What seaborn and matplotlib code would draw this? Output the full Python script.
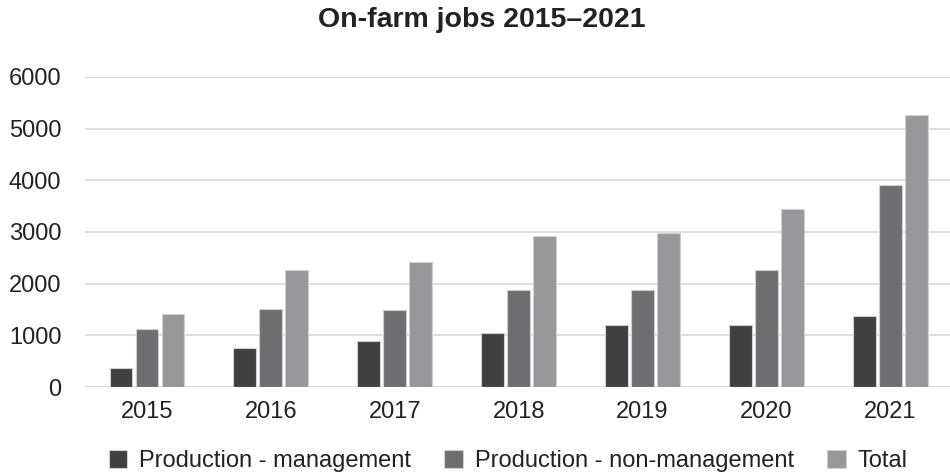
import matplotlib
matplotlib.use("Agg")
import matplotlib.pyplot as plt
import seaborn as sns
import pandas as pd

years = ["2015", "2016", "2017", "2018", "2019", "2020", "2021"]
series_names = ["Production - management", "Production - non-management", "Total"]
management = [360, 760, 900, 1050, 1200, 1200, 1380]
non_management = [1120, 1510, 1500, 1870, 1870, 2260, 3910]
total = [1420, 2270, 2410, 2920, 2980, 3450, 5260]
colors = ["#404040", "#6d6e71", "#97989b"]

rows = []
for name, vals in zip(series_names, [management, non_management, total]):
    for y, v in zip(years, vals):
        rows.append({"Year": y, "Series": name, "Jobs": v})
df = pd.DataFrame(rows)

sns.set_theme(style="white")
plt.rcParams['font.family'] = ['Liberation Sans', 'DejaVu Sans']

fig = plt.figure(figsize=(9.5, 4.72), dpi=100)
ax = fig.add_axes([0.0895, 0.18, 0.913, 0.657])

sns.barplot(data=df, x="Year", y="Jobs", hue="Series", palette=colors,
            width=0.63, gap=0.12, edgecolor="#d0d0d0", linewidth=0.8,
            ax=ax, legend=True, zorder=3)

ax.set_ylim(0, 6000)
ax.set_yticks(range(0, 6001, 1000))
ax.yaxis.grid(True, color="#d9d9d9", linewidth=1.2, zorder=0)
ax.set_axisbelow(True)
for s in ax.spines.values():
    s.set_visible(False)
ax.set_xlabel("")
ax.set_ylabel("")
ax.tick_params(axis="both", length=0, labelsize=17, colors="#222222")
ax.tick_params(axis="x", pad=10)
ax.tick_params(axis="y", pad=17)

handles, labels = ax.get_legend_handles_labels()
ax.get_legend().remove()
fig.legend(handles, labels, loc="center", bbox_to_anchor=(0.535, 0.024), ncol=3,
           frameon=False, fontsize=17, handlelength=0.8, handleheight=0.8,
           handletextpad=0.5, columnspacing=1.4, labelcolor="#222222")

fig.suptitle("On-farm jobs 2015\u20132021", fontsize=20.5, fontweight="bold",
             x=0.507, y=0.985, color="#222222")

fig.savefig("out.png", dpi=100)
